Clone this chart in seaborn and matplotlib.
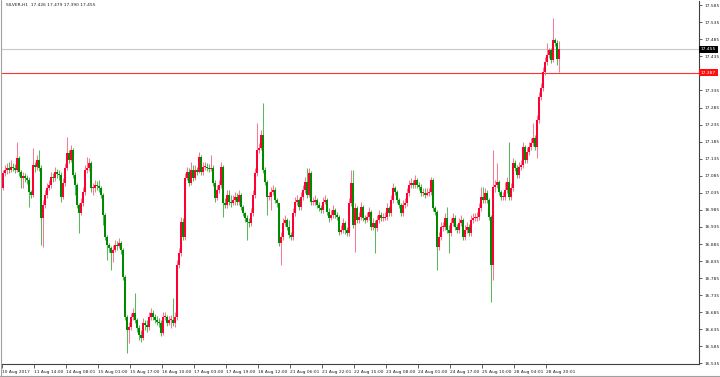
import matplotlib
matplotlib.use("Agg")
import matplotlib.pyplot as plt
import matplotlib.transforms as mtransforms
import numpy as np
import pandas as pd
import seaborn as sns

# ---------------- data ----------------
title_text = "SILVER,H1  17.426 17.479 17.390 17.455"
first_open = 17.049

closes = [
    # 10 Aug - 11 Aug
    17.093, 17.102, 17.108, 17.102, 17.111, 17.108, 17.102, 17.137, 17.096, 17.078,
    17.084, 17.078, 17.073, 17.037, 17.029, 17.117, 17.111, 17.131, 17.108, 16.961,
    16.999, 17.029, 17.049, 17.058, 17.081, 17.078, 17.096, 17.090, 17.087, 17.023,
    17.064, 17.108, 17.152, 17.131, 17.161, 17.087, 17.058, 16.999, 16.976, 17.005,
    17.037, 17.102, 17.108, 17.122, 17.049, 17.049, 17.058, 17.055, 17.049, 17.029,
    16.970, 16.906, 16.882, 16.873, 16.859, 16.868, 16.882, 16.879, 16.888, 16.868,
    16.788, 16.671,
    16.633, 16.642, 16.671, 16.683, 16.662, 16.639,
    # 15 Aug - 18 Aug
    16.618, 16.610, 16.654, 16.648, 16.642, 16.671, 16.683, 16.671, 16.662, 16.657,
    16.654, 16.624, 16.671, 16.671, 16.654, 16.662, 16.662, 16.654, 16.671, 16.824,
    16.859, 16.950, 16.906, 17.078, 17.096, 17.064, 17.102, 17.078, 17.102, 17.096,
    17.140, 17.096, 17.111, 17.111, 17.108, 17.105, 17.108, 17.064, 17.020, 17.043,
    17.058, 17.111, 17.005, 16.999, 17.029, 17.008, 17.005, 17.014, 17.023, 17.008,
    17.029, 16.993, 16.976, 16.961, 16.950, 16.947, 16.976, 17.029, 17.093, 17.161,
    17.166, 17.204, 17.102, 17.067, 17.023, 17.023, 17.037, 17.043, 17.014, 17.005,
    # 18 Aug - 24 Aug
    16.888, 16.906, 16.947, 16.955, 16.935, 16.911, 16.906, 16.976, 17.008, 17.014,
    16.993, 17.023, 17.043, 17.067, 17.029, 17.093, 17.008, 17.008, 17.014, 16.999,
    16.991, 16.985, 17.008, 17.014, 16.979, 16.961, 16.970, 16.985, 16.970, 16.964,
    16.920, 16.926, 16.947, 16.926, 16.917, 17.005, 17.064, 16.941, 16.991, 16.955,
    16.964, 16.993, 16.961, 16.955, 16.964, 16.979, 16.935, 16.947, 16.932, 16.955,
    16.970, 16.961, 16.961, 16.964, 16.991, 16.976, 17.014, 17.049, 17.037, 17.014,
    16.999, 16.976, 16.999, 17.005, 17.035, 17.058, 17.064, 17.058, 17.073, 17.058,
    # 24 Aug - 29 Aug
    17.052, 17.035, 17.035, 17.029, 17.035, 17.037, 17.073, 16.991, 16.979, 16.876,
    16.906, 16.935, 16.935, 16.961, 16.926, 16.917, 16.947, 16.961, 16.935, 16.926,
    16.947, 16.955, 16.906, 16.926, 16.935, 16.917, 16.955, 16.961, 16.961, 16.964,
    16.991, 17.023, 17.014, 17.035, 17.014, 16.964, 16.824, 17.052, 17.058, 17.067,
    17.037, 17.023, 17.023, 17.043, 17.067, 17.023, 17.049, 17.122, 17.108, 17.087,
    17.111, 17.117, 17.169, 17.131, 17.155, 17.169, 17.181, 17.196, 17.169, 17.248,
    17.316, 17.342, 17.389, 17.418, 17.439, 17.454, 17.424, 17.483, 17.474, 17.426,
    17.455,
]

highs = [
    17.102, 17.117, 17.122, 17.125, 17.131, 17.122, 17.119, 17.184, 17.143, 17.102,
    17.096, 17.093, 17.087, 17.081, 17.043, 17.166, 17.125, 17.146, 17.161, 17.117,
    17.014, 17.043, 17.064, 17.073, 17.096, 17.093, 17.111, 17.105, 17.102, 17.096,
    17.078, 17.122, 17.199, 17.161, 17.175, 17.166, 17.096, 17.064, 17.005, 17.020,
    17.052, 17.117, 17.140, 17.137, 17.128, 17.064, 17.073, 17.070, 17.073, 17.055,
    17.035, 16.976, 16.911, 16.888, 16.879, 16.882, 16.897, 16.894, 16.903, 16.894,
    16.873, 16.794,
    16.677, 16.657, 16.683, 16.698, 16.742, 16.668,
    16.648, 16.633, 16.668, 16.662, 16.662, 16.686, 16.698, 16.692, 16.680, 16.674,
    16.668, 16.662, 16.686, 16.686, 16.677, 16.674, 16.677, 16.727, 16.686, 16.838,
    16.873, 16.964, 16.961, 17.093, 17.111, 17.108, 17.125, 17.117, 17.117, 17.111,
    17.155, 17.146, 17.125, 17.125, 17.122, 17.119, 17.146, 17.117, 17.073, 17.058,
    17.073, 17.125, 17.117, 17.020, 17.043, 17.043, 17.029, 17.029, 17.037, 17.035,
    17.043, 17.035, 16.999, 16.979, 16.970, 16.961, 16.991, 17.043, 17.108, 17.240,
    17.181, 17.219, 17.298, 17.111, 17.073, 17.037, 17.052, 17.058, 17.052, 17.020,
    16.941, 16.920, 16.961, 16.970, 16.961, 16.955, 16.920, 16.991, 17.023, 17.029,
    17.020, 17.037, 17.058, 17.081, 17.108, 17.108, 17.099, 17.023, 17.029, 17.020,
    17.008, 16.999, 17.023, 17.029, 17.020, 16.991, 16.985, 16.999, 16.991, 16.979,
    16.970, 16.941, 16.961, 16.952, 16.935, 17.020, 17.102, 17.102, 17.005, 16.996,
    16.979, 17.008, 16.999, 16.970, 16.979, 16.993, 16.985, 16.961, 16.955, 16.970,
    16.985, 16.979, 16.976, 16.979, 17.005, 16.996, 17.029, 17.064, 17.055, 17.043,
    17.020, 17.005, 17.014, 17.020, 17.049, 17.073, 17.078, 17.073, 17.087, 17.078,
    17.067, 17.061, 17.049, 17.049, 17.049, 17.049, 17.081, 17.078, 16.996, 16.985,
    16.920, 16.950, 16.950, 16.976, 16.993, 16.941, 16.961, 16.976, 16.970, 16.944,
    16.961, 16.970, 16.961, 16.941, 16.950, 16.944, 16.970, 16.976, 16.976, 16.979,
    17.005, 17.052, 17.052, 17.049, 17.043, 17.020, 16.970, 17.161, 17.073, 17.122,
    17.073, 17.043, 17.037, 17.067, 17.081, 17.184, 17.064, 17.137, 17.131, 17.117,
    17.125, 17.131, 17.184, 17.175, 17.169, 17.184, 17.196, 17.240, 17.204, 17.263,
    17.330, 17.357, 17.404, 17.433, 17.474, 17.459, 17.459, 17.547, 17.489, 17.483,
    17.479,
]

lows = [
    17.043, 17.084, 17.090, 17.093, 17.096, 17.099, 17.093, 17.096, 17.084, 17.049,
    17.049, 17.067, 17.061, 16.993, 17.020, 17.023, 17.096, 17.102, 17.099, 16.882,
    16.876, 16.991, 17.020, 17.043, 17.049, 17.067, 17.070, 17.078, 17.073, 17.008,
    17.017, 17.055, 17.102, 17.122, 17.125, 17.078, 17.029, 16.991, 16.917, 16.970,
    16.996, 17.029, 17.093, 17.099, 17.037, 17.029, 17.037, 17.043, 17.037, 17.020,
    16.941, 16.897, 16.838, 16.862, 16.809, 16.832, 16.862, 16.868, 16.873, 16.856,
    16.780, 16.662,
    16.566, 16.595, 16.633, 16.662, 16.654, 16.627,
    16.604, 16.598, 16.604, 16.633, 16.627, 16.633, 16.662, 16.662, 16.654, 16.648,
    16.642, 16.616, 16.618, 16.662, 16.645, 16.648, 16.639, 16.645, 16.642, 16.662,
    16.815, 16.850, 16.897, 16.897, 17.073, 17.055, 17.058, 17.070, 17.073, 17.087,
    17.093, 17.087, 17.087, 17.102, 17.099, 17.096, 17.099, 17.055, 17.008, 17.014,
    17.035, 17.049, 16.964, 16.991, 16.991, 16.999, 16.993, 16.999, 16.999, 16.999,
    16.999, 16.985, 16.967, 16.950, 16.897, 16.935, 16.938, 16.967, 17.020, 17.084,
    17.152, 17.161, 17.093, 17.058, 16.970, 17.014, 16.985, 17.029, 17.005, 16.993,
    16.879, 16.824, 16.897, 16.938, 16.926, 16.903, 16.897, 16.897, 16.967, 16.999,
    16.985, 16.985, 17.014, 17.035, 17.020, 17.023, 16.999, 16.999, 16.999, 16.991,
    16.982, 16.976, 16.976, 17.002, 16.970, 16.950, 16.955, 16.961, 16.961, 16.955,
    16.911, 16.914, 16.917, 16.914, 16.908, 16.908, 16.996, 16.932, 16.862, 16.947,
    16.947, 16.955, 16.952, 16.947, 16.950, 16.955, 16.926, 16.926, 16.859, 16.923,
    16.947, 16.952, 16.952, 16.955, 16.955, 16.967, 16.967, 17.005, 17.029, 17.005,
    16.991, 16.967, 16.967, 16.991, 16.996, 17.026, 17.049, 17.049, 17.049, 17.049,
    17.043, 17.026, 17.026, 17.020, 17.026, 17.026, 17.029, 16.982, 16.970, 16.809,
    16.868, 16.897, 16.923, 16.926, 16.917, 16.859, 16.908, 16.938, 16.926, 16.917,
    16.917, 16.938, 16.897, 16.897, 16.917, 16.908, 16.908, 16.947, 16.952, 16.952,
    16.955, 16.982, 17.005, 17.005, 17.005, 16.955, 16.715, 16.780, 17.037, 17.049,
    17.029, 17.014, 17.014, 17.014, 17.035, 17.014, 17.014, 17.040, 17.099, 17.078,
    17.078, 17.102, 17.108, 17.122, 17.122, 17.146, 17.161, 17.172, 17.161, 17.137,
    17.240, 17.307, 17.333, 17.380, 17.410, 17.430, 17.415, 17.418, 17.465, 17.410,
    17.390,
]

time_labels = [
    "10 Aug 2017", "11 Aug 14:00", "14 Aug 08:01", "15 Aug 01:00", "15 Aug 17:00",
    "16 Aug 10:00", "17 Aug 03:00", "17 Aug 19:00", "18 Aug 12:00", "21 Aug 06:01",
    "21 Aug 22:01", "22 Aug 15:00", "23 Aug 08:00", "24 Aug 01:00", "24 Aug 17:00",
    "25 Aug 10:00", "28 Aug 04:01", "28 Aug 20:01",
]
bars_per_label = 16

price_ticks = [
    16.535, 16.585, 16.635, 16.685, 16.735, 16.785, 16.835, 16.885, 16.935, 16.985,
    17.035, 17.085, 17.135, 17.185, 17.235, 17.285, 17.335, 17.385, 17.435, 17.485,
    17.535, 17.585,
]
bid_price = 17.455
alert_price = 17.387

# ---------------- build table ----------------
n = min(len(closes), len(highs), len(lows))
closes, highs, lows = closes[:n], highs[:n], lows[:n]
opens = [first_open] + closes[:-1]
df = pd.DataFrame({"open": opens, "high": highs, "low": lows, "close": closes})
df["idx"] = np.arange(n)
df["high"] = df[["high", "open", "close"]].max(axis=1)
df["low"] = df[["low", "open", "close"]].min(axis=1)
df["up"] = df["close"] >= df["open"]

# ---------------- figure ----------------
sns.set_theme(style="white")
plt.rcParams["font.family"] = ["DejaVu Sans"]
W, H = 720, 377
fig = plt.figure(figsize=(W / 100, H / 100), dpi=100)
fig.patch.set_facecolor("white")

ax_left, ax_right, ax_top, ax_bottom = 2, 699, 1, 364.3
ax = fig.add_axes([ax_left / W, 1 - ax_bottom / H,
                   (ax_right - ax_left) / W, (ax_bottom - ax_top) / H])
ax.set_facecolor("white")

RED, GREEN = "#ff0033", "#008a00"
RED_W, GREEN_W = "#f27d95", "#5cb85c"

wick_cols = np.where(df["up"], RED_W, GREEN_W)
ax.vlines(df["idx"], df["low"], df["high"], colors=wick_cols, linewidth=0.75, zorder=2)

min_body = 0.0025
body_h = (df["close"] - df["open"]).abs().clip(lower=min_body)
body_b = df[["open", "close"]].min(axis=1)
ax.bar(df["idx"], body_h, bottom=body_b, width=0.8,
       color=np.where(df["up"], RED, GREEN), linewidth=0, zorder=3)

ax.axhline(bid_price, color="#c8c8c8", linewidth=0.8, zorder=1)
ax.axhline(alert_price, color="#ff3030", linewidth=0.8, zorder=1)

# scale: bar i at pixel 3 + 2 i ; price p at pixel (17.6 - p) / 0.00293
ax.set_xlim((ax_left - 3) / 2, (ax_right - 3) / 2)
ax.set_ylim(17.6 - 0.00293 * ax_bottom, 17.6 - 0.00293 * ax_top)

# spines
for s in ["top", "left"]:
    ax.spines[s].set_visible(False)
for s in ["right", "bottom"]:
    ax.spines[s].set_color("#404040")
    ax.spines[s].set_linewidth(0.8)

FS = 3.2
TXT = "#202020"
ax.yaxis.tick_right()
ax.set_yticks(price_ticks)
ax.set_yticklabels(["" if abs(t - 17.385) < 1e-6 else f"{t:.3f}" for t in price_ticks])
ax.tick_params(axis="y", direction="out", length=2.5, width=0.5, pad=1.5,
               labelsize=FS, colors=TXT, right=True, left=False)

xt = [k * bars_per_label - 0.65 for k in range(len(time_labels))]
ax.set_xticks(xt)
ax.set_xticklabels(time_labels, ha="left")
offset = mtransforms.ScaledTranslation(1.2 / 100, 0, fig.dpi_scale_trans)
for lab in ax.get_xticklabels():
    lab.set_transform(lab.get_transform() + offset)
ax.tick_params(axis="x", direction="out", length=3, width=0.5, pad=1.2,
               labelsize=FS, colors=TXT, bottom=True)
ax.grid(False)

# price boxes on the right axis
trans = mtransforms.blended_transform_factory(ax.transAxes, ax.transData)
ax.text(1.0 + 2 / 697, bid_price, f"{bid_price:.3f}", transform=trans, ha="left",
        va="center", fontsize=FS, color="white", clip_on=False, zorder=10,
        bbox=dict(boxstyle="square,pad=0.35", fc="black", ec="black", lw=0))
ax.text(1.0 + 2 / 697, alert_price, f"{alert_price:.3f}", transform=trans, ha="left",
        va="center", fontsize=FS, color="white", clip_on=False, zorder=10,
        bbox=dict(boxstyle="square,pad=0.35", fc="#ff1010", ec="#ff1010", lw=0))

# title
fig.text(6 / W, 1 - 5 / H, title_text, fontsize=FS, color=TXT, ha="left", va="center")

# window border lines
fig.add_artist(plt.Line2D([0.8 / W, 0.8 / W], [1 - 376 / H, 1], color="#a0a0a0", lw=0.8))
fig.add_artist(plt.Line2D([0, 1], [1 - 375.8 / H, 1 - 375.8 / H], color="#a0a0a0", lw=0.8))

fig.savefig("out.png", dpi=100, facecolor="white")
